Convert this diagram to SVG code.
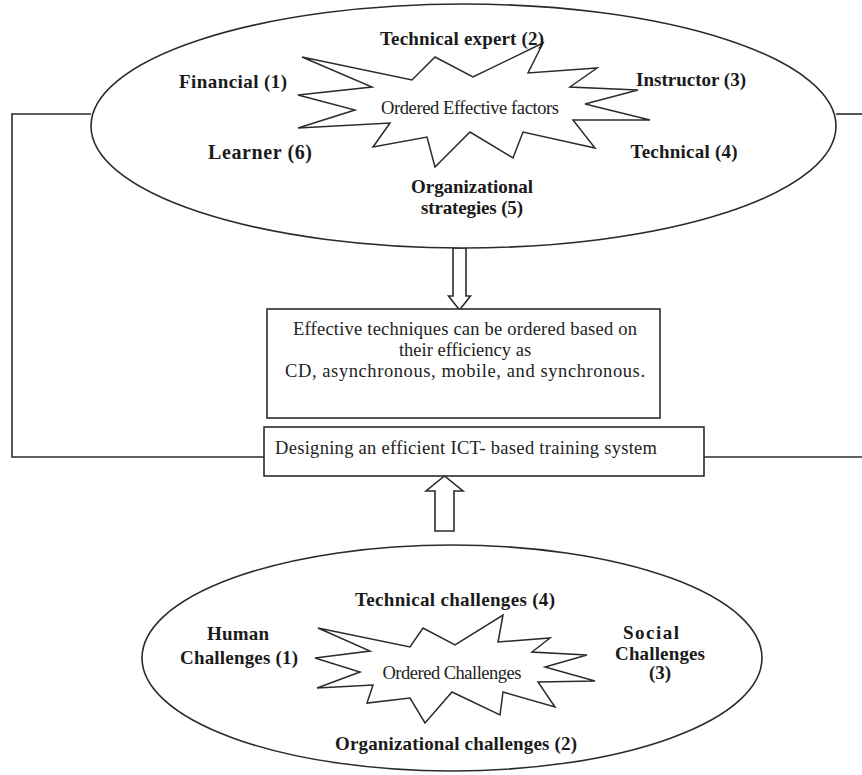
<svg xmlns="http://www.w3.org/2000/svg" width="862" height="775" viewBox="0 0 862 775">
<style>
  .ln{fill:none;stroke:#2b2b2b;stroke-width:1.6}
  .shape{fill:#fff;stroke:#2b2b2b;stroke-width:1.6}
  .star{fill:#fff;stroke:#2b2b2b;stroke-width:1.5;stroke-linejoin:miter}
  .b{font-family:"Liberation Serif","Times New Roman",serif;font-weight:bold;font-size:19px;fill:#1a1a1a;text-anchor:middle}
  .n{font-family:"Liberation Serif","Times New Roman",serif;font-size:18.5px;fill:#222;text-anchor:middle}
</style>
<rect width="862" height="775" fill="#fff"/>
<g id="connectors">
  <path class="ln" d="M91,114 H12 V457 H264"/>
  <path class="ln" d="M836,114 H862"/>
  <path class="ln" d="M704,457 H862"/>
  <path class="shape" d="M453,248 V296 H448.5 L459.5,310 L470.5,296 H466 V248 Z"/>
  <path class="shape" d="M435,531 V491 H426 L444.5,476 L463,491 H454 V531 Z"/>
</g>
<g id="factors">
  <ellipse class="shape" cx="463.5" cy="126" rx="372.5" ry="122"/>
  <polygon class="star" points="302,57 412,80 435,57 473,77 543,43 528,73 597,68 570,87 638,90 585,104 650,120 573,120 595,148 523,132 513,158 470,132 435,167 427,137 373,147 390,123 298,128 355,110 298,95 372,87"/>
  <text class="n" x="470" y="114" textLength="178">Ordered Effective factors</text>
  <text class="b" x="462" y="45" textLength="164">Technical expert (2)</text>
  <text class="b" x="233" y="88" textLength="108">Financial (1)</text>
  <text class="b" x="691" y="86" textLength="110">Instructor (3)</text>
  <text class="b" x="260" y="159" textLength="104" style="font-size:20px">Learner (6)</text>
  <text class="b" x="684" y="158" textLength="107">Technical (4)</text>
  <text class="b" x="472" y="193" textLength="122">Organizational</text>
  <text class="b" x="472" y="214" textLength="102">strategies (5)</text>
</g>
<g id="techniques">
  <rect class="shape" x="267" y="309" width="393" height="109"/>
  <text class="n" x="465" y="335" textLength="344">Effective techniques can be ordered based on</text>
  <text class="n" x="465" y="356">their efficiency as</text>
  <text class="n" x="465" y="377" textLength="360">CD, asynchronous, mobile, and synchronous.</text>
</g>
<g id="designing">
  <rect class="shape" x="264" y="427" width="440" height="49"/>
  <text class="n" x="466" y="454" textLength="382">Designing an efficient ICT- based training system</text>
</g>
<g id="challenges">
  <ellipse class="shape" cx="452" cy="658" rx="310" ry="113"/>
  <polygon class="star" points="318,628 410,647 423,628 455,645 503,615 498,642 550,638 532,652 587,655 545,667 595,681 538,682 555,707 503,692 500,715 452,692 425,723 410,698 367,703 373,685 317,688 360,672 315,658 370,651"/>
  <text class="n" x="452" y="679" textLength="139">Ordered Challenges</text>
  <text class="b" x="455" y="606" textLength="200">Technical challenges (4)</text>
  <text class="b" x="238" y="640" textLength="62">Human</text>
  <text class="b" x="239" y="664" textLength="118">Challenges (1)</text>
  <text class="b" x="456" y="750" textLength="242">Organizational challenges (2)</text>
  <text class="b" x="651" y="639" textLength="56">Social</text>
  <text class="b" x="660" y="660" textLength="90">Challenges</text>
  <text class="b" x="660" y="679">(3)</text>
</g>
</svg>
